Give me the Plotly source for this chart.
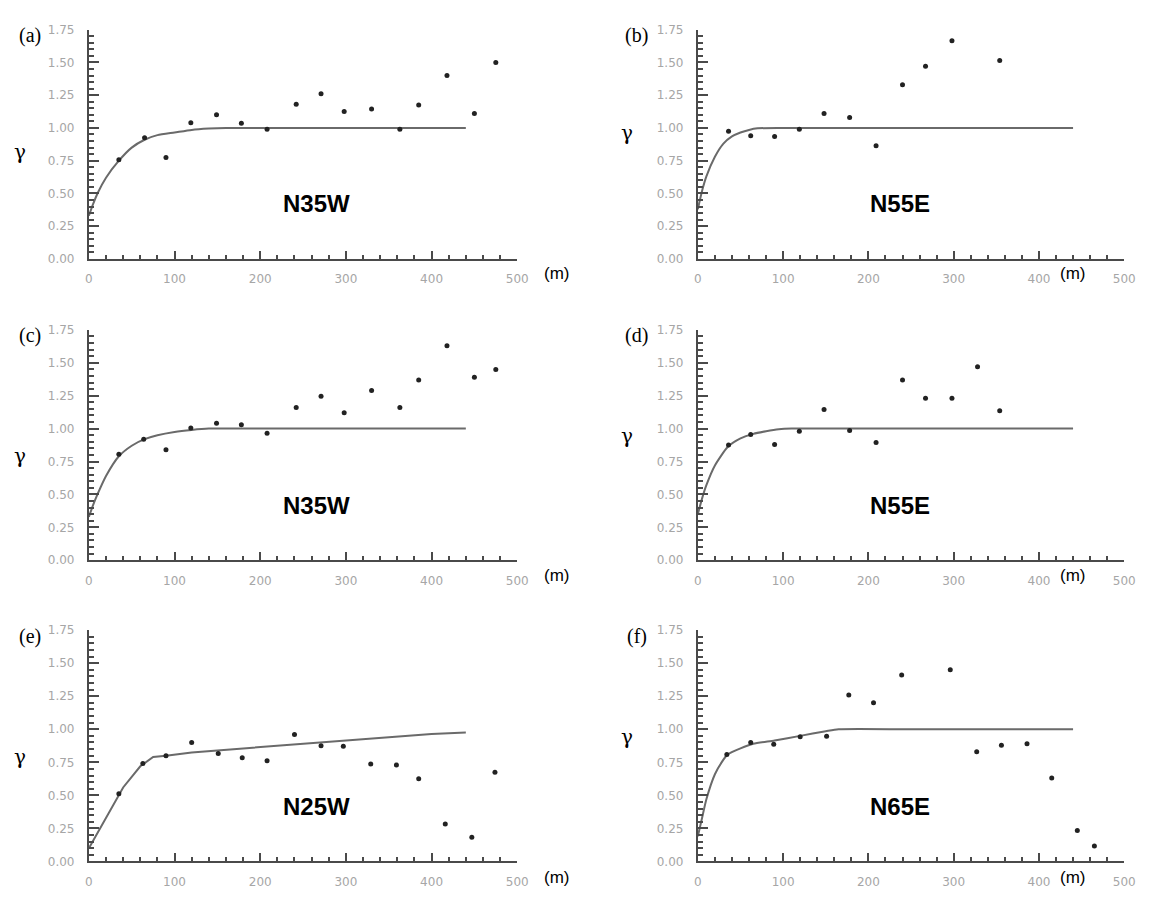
import plotly.graph_objects as go

# ---------------- data ----------------
A_LAG = [35, 65, 90, 119, 149, 178, 208, 242, 271, 298, 330, 363, 385, 418, 450, 475]
A_GAMMA = [0.757, 0.925, 0.775, 1.04, 1.10, 1.035, 0.99, 1.18, 1.26, 1.125, 1.145, 0.99, 1.175, 1.40, 1.11, 1.50]
A_FIT_LAG = [0, 5, 10, 20, 35, 50, 65, 80, 100, 120, 140, 160, 200, 300, 440]
A_FIT_GAMMA = [0.33, 0.42, 0.50, 0.62, 0.75, 0.85, 0.91, 0.945, 0.965, 0.985, 0.995, 1.0, 1.0, 1.0, 1.0]

B_LAG = [36, 62, 90, 119, 148, 178, 209, 240, 267, 298, 354]
B_GAMMA = [0.975, 0.94, 0.935, 0.99, 1.11, 1.08, 0.865, 1.33, 1.47, 1.665, 1.515]
B_FIT_LAG = [0, 5, 10, 20, 30, 40, 50, 60, 70, 100, 440]
B_FIT_GAMMA = [0.38, 0.52, 0.63, 0.78, 0.88, 0.935, 0.965, 0.985, 0.997, 1.0, 1.0]

C_LAG = [35, 64, 90, 119, 149, 178, 208, 242, 271, 298, 330, 363, 385, 418, 450, 475]
C_GAMMA = [0.805, 0.92, 0.84, 1.005, 1.04, 1.03, 0.965, 1.16, 1.245, 1.12, 1.29, 1.16, 1.37, 1.63, 1.39, 1.45]
C_FIT_LAG = [0, 5, 10, 20, 35, 50, 65, 80, 100, 120, 140, 200, 440]
C_FIT_GAMMA = [0.33, 0.42, 0.50, 0.64, 0.79, 0.87, 0.92, 0.95, 0.975, 0.99, 1.0, 1.0, 1.0]

D_LAG = [36, 62, 90, 119, 148, 178, 209, 240, 267, 298, 328, 354]
D_GAMMA = [0.875, 0.955, 0.88, 0.98, 1.145, 0.985, 0.895, 1.37, 1.23, 1.23, 1.47, 1.135]
D_FIT_LAG = [0, 5, 10, 20, 35, 50, 65, 80, 95, 110, 200, 440]
D_FIT_GAMMA = [0.35, 0.47, 0.57, 0.72, 0.86, 0.925, 0.96, 0.98, 0.995, 1.0, 1.0, 1.0]

E_LAG = [35, 63, 90, 120, 151, 179, 208, 240, 271, 297, 329, 359, 385, 416, 447, 474]
E_GAMMA = [0.513, 0.742, 0.80, 0.90, 0.817, 0.784, 0.762, 0.96, 0.876, 0.871, 0.737, 0.729, 0.625, 0.284, 0.184, 0.675]
E_FIT_LAG = [0, 20, 40, 60, 75, 90, 120, 150, 200, 250, 300, 350, 400, 440]
E_FIT_GAMMA = [0.10, 0.33, 0.56, 0.72, 0.79, 0.80, 0.825, 0.84, 0.865, 0.89, 0.92, 0.945, 0.965, 0.975]

F_LAG = [34, 62, 89, 120, 151, 177, 206, 239, 296, 327, 356, 386, 415, 445, 465]
F_GAMMA = [0.81, 0.90, 0.886, 0.943, 0.948, 1.26, 1.20, 1.41, 1.45, 0.83, 0.88, 0.89, 0.632, 0.234, 0.117]
F_FIT_LAG = [0, 5, 10, 20, 30, 35, 50, 65, 90, 120, 150, 165, 250, 440]
F_FIT_GAMMA = [0.19, 0.33, 0.47, 0.66, 0.77, 0.81, 0.855, 0.89, 0.915, 0.95, 0.985, 1.0, 1.0, 1.0]

PANEL_LETTERS = ["(a)", "(b)", "(c)", "(d)", "(e)", "(f)"]
DIRECTIONS = ["N35W", "N55E", "N35W", "N55E", "N25W", "N65E"]
X_TICKS = [0, 100, 200, 300, 400, 500]
Y_TICKS = [0.00, 0.25, 0.50, 0.75, 1.00, 1.25, 1.50, 1.75]

# ---------------- layout geometry ----------------
W, H = 1152, 898
COLS = [(86, 520), (703, 1135)]       # pixel x of axis ranges
ROWS = [(23, 256), (328, 562), (633, 868)]  # pixel y top/bottom

panels = [
    (A_LAG, A_GAMMA, A_FIT_LAG, A_FIT_GAMMA, "spline"),
    (B_LAG, B_GAMMA, B_FIT_LAG, B_FIT_GAMMA, "spline"),
    (C_LAG, C_GAMMA, C_FIT_LAG, C_FIT_GAMMA, "spline"),
    (D_LAG, D_GAMMA, D_FIT_LAG, D_FIT_GAMMA, "spline"),
    (E_LAG, E_GAMMA, E_FIT_LAG, E_FIT_GAMMA, "linear"),
    (F_LAG, F_GAMMA, F_FIT_LAG, F_FIT_GAMMA, "spline"),
]

fig = go.Figure()
layout = dict(
    width=W, height=H,
    margin=dict(l=0, r=0, t=0, b=0),
    paper_bgcolor="white", plot_bgcolor="white",
    showlegend=False,
)

TICKFONT = dict(family="DejaVu Sans", size=12, color="#a6a6a6")
AXCOL = "#4a4a4a"
annotations = []

def px(xp):
    return xp / W

def py(yp):
    return 1 - yp / H

for i, (lag, gam, flag, fgam, shape) in enumerate(panels):
    r, c = divmod(i, 2)
    x0, x1 = COLS[c]
    y0, y1 = ROWS[r]
    xa = "xaxis" if i == 0 else f"xaxis{i+1}"
    ya = "yaxis" if i == 0 else f"yaxis{i+1}"
    xref = "x" if i == 0 else f"x{i+1}"
    yref = "y" if i == 0 else f"y{i+1}"
    layout[xa] = dict(
        domain=[px(x0), px(x1)], range=[0, 500], anchor=yref,
        showgrid=False, zeroline=False, showline=True, linecolor=AXCOL, linewidth=2,
        ticks="inside", ticklen=8, tickwidth=2, tickcolor=AXCOL,
        tickvals=X_TICKS, ticktext=[str(v) for v in X_TICKS],
        tickfont=TICKFONT, ticklabelstandoff=8,
        minor=dict(dtick=20, tick0=0, ticks="inside", ticklen=4, tickwidth=1.5, tickcolor=AXCOL),
        fixedrange=True,
    )
    layout[ya] = dict(
        domain=[py(y1), py(y0)], range=[0, 1.75], anchor=xref,
        showgrid=False, zeroline=False, showline=True, linecolor=AXCOL, linewidth=2,
        ticks="inside", ticklen=10, tickwidth=2, tickcolor=AXCOL,
        tickvals=Y_TICKS, ticktext=[f"{v:.2f}" for v in Y_TICKS],
        tickfont=TICKFONT, ticklabelstandoff=10,
        minor=dict(dtick=0.05, tick0=0, ticks="inside", ticklen=5, tickwidth=1.5, tickcolor=AXCOL),
        fixedrange=True,
    )
    fig.add_trace(go.Scatter(
        x=flag, y=fgam, mode="lines", xaxis=xref, yaxis=yref,
        line=dict(color="#6a6a6a", width=2, shape=shape, smoothing=0.6),
        hoverinfo="skip",
    ))
    fig.add_trace(go.Scatter(
        x=lag, y=gam, mode="markers", xaxis=xref, yaxis=yref,
        marker=dict(symbol="circle", size=5, color="#222222"),
    ))
    # direction label
    annotations.append(dict(
        x=(x0 + (317 - 86) if c == 0 else 908) / W, y=py(y1 - 56), xref="paper", yref="paper",
        text=f"<b>{DIRECTIONS[i]}</b>", showarrow=False, xanchor="center", yanchor="middle",
        font=dict(family="Liberation Sans", size=24, color="black"),
    ))
    # panel letter
    annotations.append(dict(
        x=px(26 if c == 0 else 641), y=py(y0 + 6), xref="paper", yref="paper",
        text=PANEL_LETTERS[i], showarrow=False, xanchor="center", yanchor="middle",
        font=dict(family="Liberation Serif", size=20, color="black"),
    ))
    # gamma
    gy = [(147, 128), (456, 436), (762, 742)][r][c]
    annotations.append(dict(
        x=px(16 if c == 0 else 631), y=py(gy), xref="paper", yref="paper",
        text="γ", showarrow=False, xanchor="center", yanchor="middle",
        font=dict(family="DejaVu Serif", size=20, color="black"),
    ))
    # (m)
    my = [271, 577, 884][r]
    annotations.append(dict(
        x=px(560 if c == 0 else 1083), y=py(my), xref="paper", yref="paper",
        text="(m)", showarrow=False, xanchor="center", yanchor="middle",
        font=dict(family="Liberation Sans", size=17, color="black"),
    ))

layout["annotations"] = annotations
fig.update_layout(**layout)
fig.write_html("out.html")
